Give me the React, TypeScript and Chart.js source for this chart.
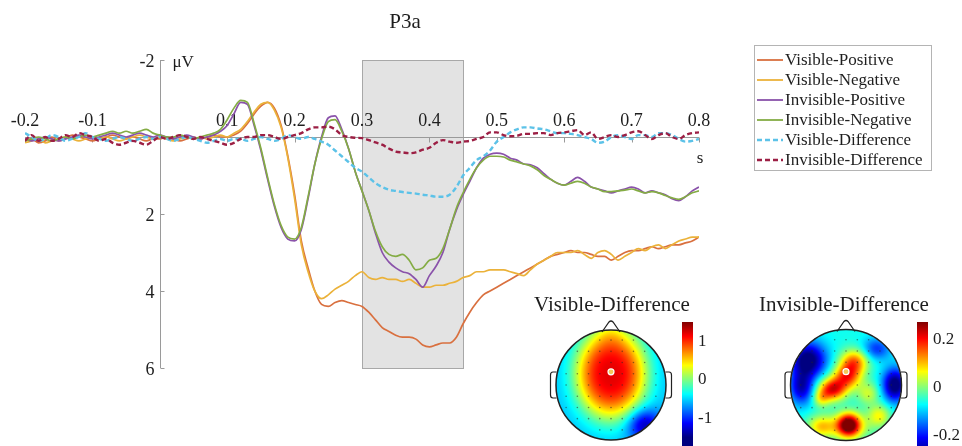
import React, { useEffect, useRef } from 'react';
import { Chart, registerables } from 'chart.js';

Chart.register(...registerables);

// ---------- text ----------
const TITLE = 'P3a';
const Y_UNIT = 'μV';
const X_UNIT = 's';
const X_TICKS = [-0.2, -0.1, 0.1, 0.2, 0.3, 0.4, 0.5, 0.6, 0.7, 0.8];
const Y_TICKS = [-2, 2, 4, 6];
const X_MIN = -0.2;
const X_MAX = 0.8;
const Y_MIN = -2;
const Y_MAX = 6;
const WINDOW_START = 0.3;
const WINDOW_END = 0.45;
const START_TIME = -0.2;
const SAMPLE_STEP = 0.01;

const SERIES_NAMES = [
  'Visible-Positive',
  'Visible-Negative',
  'Invisible-Positive',
  'Invisible-Negative',
  'Visible-Difference',
  'Invisible-Difference',
];

// ---------- data (µV, one value per 10 ms from -0.2 s to 0.8 s) ----------
const VISIBLE_POSITIVE = [
  0.1, 0.05, 0.15, 0.1, 0.0, 0.1, 0.05, -0.05, 0.0, 0.05,
  0.1, 0.05, 0.0, -0.05, 0.0, 0.05, 0.0, 0.05, 0.1, 0.05,
  0.05, 0.0, 0.05, 0.1, 0.05, 0.0, 0.05, 0.0, -0.05, 0.0,
  0.0, -0.05, -0.15, -0.35, -0.6, -0.8, -0.9, -0.75, -0.3, 0.5,
  1.5, 2.7, 3.4, 4.0, 4.35, 4.4, 4.3, 4.25, 4.3, 4.35,
  4.4, 4.55, 4.75, 4.95, 5.05, 5.15, 5.2, 5.2, 5.25, 5.4,
  5.45, 5.4, 5.35, 5.35, 5.2, 4.85, 4.55, 4.3, 4.1, 4.0,
  3.9, 3.8, 3.7, 3.6, 3.5, 3.4, 3.3, 3.2, 3.1, 3.05,
  3.0, 2.95, 3.0, 3.0, 3.05, 3.1, 3.1, 3.2, 3.1, 3.0,
  2.95, 2.95, 2.9, 2.85, 2.9, 2.85, 2.8, 2.8, 2.75, 2.7,
  2.6,
];
const VISIBLE_NEGATIVE = [
  0.15, 0.1, 0.05, 0.15, 0.1, 0.05, 0.0, 0.05, 0.1, 0.05,
  0.0, 0.05, 0.0, 0.05, 0.1, 0.05, 0.0, -0.05, 0.0, 0.05,
  0.0, 0.05, 0.1, 0.05, 0.0, 0.05, 0.0, 0.05, 0.0, -0.05,
  0.0, -0.1, -0.2, -0.4, -0.65, -0.85, -0.9, -0.7, -0.25, 0.55,
  1.6, 2.8, 3.5, 4.0, 4.2, 4.1, 3.95, 3.85, 3.75, 3.6,
  3.5, 3.65, 3.7, 3.65, 3.7, 3.7, 3.75, 3.7, 3.8, 3.9,
  3.9, 3.85, 3.85, 3.8, 3.75, 3.65, 3.6, 3.5, 3.5, 3.45,
  3.45, 3.45, 3.5, 3.55, 3.6, 3.45, 3.3, 3.2, 3.1, 3.0,
  3.0, 3.0, 2.95, 3.05, 3.15, 3.0, 2.95, 3.05, 3.2, 3.1,
  3.0, 2.9, 2.95, 2.85, 2.8, 2.9, 2.8, 2.7, 2.65, 2.6,
  2.6,
];
const INVISIBLE_POSITIVE = [
  0.05, 0.1, 0.05, 0.0, 0.05, 0.1, 0.05, 0.0, -0.05, 0.0,
  0.05, 0.0, -0.05, -0.1, -0.05, 0.0, -0.05, -0.1, -0.05, 0.0,
  -0.05, 0.0, 0.05, 0.0, -0.05, 0.0, 0.05, 0.0, -0.05, -0.15,
  -0.3, -0.6, -0.9, -0.85, -0.3, 0.35, 1.1, 1.8, 2.35, 2.65,
  2.7, 2.4, 1.6, 0.7, 0.0, -0.5, -0.55, -0.2, 0.3, 0.9,
  1.4, 1.9, 2.5, 3.0, 3.25, 3.4, 3.5, 3.55, 3.7, 3.9,
  3.6, 3.35, 3.0, 2.4, 1.9, 1.5, 1.15, 0.8, 0.55, 0.45,
  0.42, 0.45, 0.55, 0.6, 0.7, 0.72, 0.8, 0.95, 1.1, 1.2,
  1.25, 1.15, 1.05, 1.15, 1.3, 1.35, 1.4, 1.45, 1.4, 1.35,
  1.3, 1.35, 1.45, 1.4, 1.45, 1.5, 1.6, 1.65, 1.55, 1.4,
  1.3,
];
const INVISIBLE_NEGATIVE = [
  0.1, 0.05, 0.0, 0.05, 0.1, 0.05, 0.0, 0.05, 0.0, -0.05,
  0.0, -0.05, -0.1, -0.15, -0.1, -0.15, -0.1, -0.15, -0.2, -0.1,
  -0.05, 0.0, 0.0, -0.05, 0.0, 0.05, 0.0, -0.05, -0.1, -0.2,
  -0.45, -0.75, -0.95, -0.9, -0.35, 0.3, 1.05, 1.75, 2.3, 2.6,
  2.65, 2.35, 1.55, 0.7, 0.05, -0.4, -0.45, -0.15, 0.3, 0.9,
  1.4, 1.9, 2.45, 2.85, 3.05, 3.1, 3.05, 3.2, 3.45, 3.4,
  3.2, 3.15, 2.9, 2.4, 1.85, 1.45, 1.1, 0.8, 0.6, 0.5,
  0.5, 0.52, 0.6, 0.65, 0.7, 0.75, 0.85, 1.0, 1.1, 1.2,
  1.25, 1.2, 1.15, 1.2, 1.3, 1.35, 1.42, 1.42, 1.4, 1.38,
  1.35, 1.4, 1.45, 1.42, 1.45, 1.52, 1.58, 1.62, 1.55, 1.45,
  1.4,
];
const VISIBLE_DIFFERENCE = [
  -0.1, 0.0, 0.1, 0.05, -0.05, 0.0, 0.1, 0.05, 0.0, -0.1,
  0.0, 0.05, 0.1, 0.05, 0.0, 0.05, 0.1, 0.05, 0.0, 0.05,
  0.0, 0.05, 0.1, 0.05, 0.0, 0.05, 0.1, 0.15, 0.1, 0.05,
  0.1, 0.05, 0.05, 0.1, 0.05, 0.0, 0.05, 0.1, 0.05, -0.05,
  0.0, 0.05, 0.0, 0.05, 0.12, 0.2, 0.35, 0.5, 0.65, 0.8,
  0.9, 1.05, 1.2, 1.3, 1.37, 1.4, 1.43, 1.45, 1.47, 1.5,
  1.52, 1.55, 1.55, 1.5, 1.3, 1.0, 0.8, 0.6, 0.5, 0.35,
  0.12, 0.0, -0.12, -0.2, -0.25, -0.25, -0.22, -0.2, -0.15, -0.1,
  -0.1, -0.08, -0.05, 0.0, 0.05, 0.15, 0.12, 0.0, -0.05, 0.0,
  0.05, -0.05, -0.05, 0.0, -0.1, -0.1, -0.05, 0.05, 0.12, 0.1,
  0.05,
];
const INVISIBLE_DIFFERENCE = [
  0.1, -0.05, 0.1, 0.0, 0.1, 0.05, -0.05, 0.0, -0.1, -0.05,
  0.0, 0.1, 0.05, 0.15, 0.2, 0.15, 0.1, 0.15, 0.2, 0.1,
  0.0, 0.05, 0.0, -0.05, 0.0, 0.05, 0.0, 0.05, 0.1, 0.15,
  0.2, 0.15, 0.05, 0.0, 0.0, -0.05, -0.05, 0.0, 0.05, 0.0,
  -0.05, -0.1, -0.2, -0.25, -0.25, -0.27, -0.2, -0.05, 0.0, 0.02,
  0.03, 0.08, 0.14, 0.2, 0.3, 0.38, 0.4, 0.42, 0.4, 0.33,
  0.28, 0.15, 0.08, 0.12, 0.15, 0.12, 0.1, 0.05, 0.0, -0.12,
  -0.12, -0.05, -0.02, -0.03, -0.08, -0.08, -0.1, -0.1, -0.05, -0.1,
  -0.12, -0.15, -0.18, -0.05, -0.12, 0.05, 0.0, -0.05, 0.0, -0.05,
  -0.12, -0.15, -0.05, 0.05, -0.05, -0.1, 0.0, 0.05, -0.05, -0.1,
  -0.12,
];

// ---------- scalp maps (components of the interpolated field) ----------
const VIS_TOPO_TITLE = 'Visible-Difference';
const VIS_TOPO_BASE = -0.55;
const VIS_TOPO_COMPONENTS = [
  [0.0, -0.2, 1.75, 0.65, 0.82, 1.5],
  [0.0, -0.98, 0.2, 0.3, 0.25, 1],
  [0.6, 0.72, -0.8, 0.3, 0.28, 1],
];
const VIS_TOPO_LIMIT = 1.5;
const VIS_CBAR_TICKS = [1, 0, -1];

const INV_TOPO_TITLE = 'Invisible-Difference';
const INV_TOPO_BASE = -0.06;
const INV_TOPO_COMPONENTS = [
  [-0.68, -0.45, -0.24, 0.32, 0.32, 1],
  [-0.8, 0.05, -0.18, 0.22, 0.3, 1],
  [0.55, -0.65, -0.12, 0.25, 0.2, 1],
  [0.88, 0.0, -0.24, 0.22, 0.3, 1],
  [0.15, -0.42, 0.2, 0.25, 0.22, 1],
  [0.02, -0.15, 0.22, 0.25, 0.22, 1],
  [-0.25, 0.08, 0.27, 0.25, 0.2, 1],
  [0.05, 0.72, 0.32, 0.2, 0.2, 1],
  [0.05, 0.75, 0.1, 0.42, 0.26, 1],
  [-0.45, 0.75, 0.14, 0.25, 0.2, 1],
  [0.6, 0.55, 0.12, 0.2, 0.2, 1],
  [0.4, 0.15, 0.1, 0.2, 0.2, 1],
  [-0.45, 0.25, 0.1, 0.15, 0.15, 1],
];
const INV_TOPO_LIMIT = 0.275;
const INV_CBAR_TICKS = [0.2, 0, -0.2];

// ---------- styles ----------
const SERIF = '"Liberation Serif", "Times New Roman", serif';
const TEXT_COLOR = '#1e1e1e';
const COLORS = ['#d9703f', '#ebb23a', '#8a52aa', '#84ac44', '#5cc2e8', '#9c1f44'];
const DASHED = [false, false, false, false, true, true];

function jet(n: number): [number, number, number] {
  const c = (v: number) => Math.max(0, Math.min(1, v));
  return [c(1.5 - Math.abs(4 * n - 3)), c(1.5 - Math.abs(4 * n - 2)), c(1.5 - Math.abs(4 * n - 1))];
}

function fieldAt(u: number, v: number, base: number, comps: number[][]) {
  let s = base;
  for (const [cu, cv, a, sx, sy, p] of comps) {
    const d2 = ((u - cu) / sx) ** 2 + ((v - cv) / sy) ** 2;
    s += a * Math.exp(-Math.pow(d2, p));
  }
  return s;
}

type TopoLayout = {
  cx: number; cy: number; r: number; title: string; titleX: number;
  base: number; comps: number[][]; limit: number;
  barX: number; barTop: number; pxPerUnit: number; ticks: number[];
};

function drawTopo(ctx: CanvasRenderingContext2D, L: TopoLayout) {
  const { cx, cy, r } = L;
  const size = Math.ceil(2 * r) + 2;
  const off = document.createElement('canvas');
  off.width = size;
  off.height = size;
  const octx = off.getContext('2d')!;
  const img = octx.createImageData(size, size);
  for (let py = 0; py < size; py++) {
    for (let px = 0; px < size; px++) {
      const u = (px + 0.5 - size / 2) / r;
      const v = (py + 0.5 - size / 2) / r;
      const idx = (py * size + px) * 4;
      if (u * u + v * v > 1.0) { img.data[idx + 3] = 0; continue; }
      const val = fieldAt(u, v, L.base, L.comps);
      const n = Math.max(0, Math.min(1, (val + L.limit) / (2 * L.limit)));
      const [R, G, B] = jet(n);
      img.data[idx] = R * 255;
      img.data[idx + 1] = G * 255;
      img.data[idx + 2] = B * 255;
      img.data[idx + 3] = 255;
    }
  }
  octx.putImageData(img, 0, 0);
  ctx.save();
  ctx.drawImage(off, cx - size / 2, cy - size / 2);

  // electrodes
  ctx.fillStyle = 'rgba(40,40,40,0.55)';
  for (let gv = -0.8; gv <= 0.81; gv += 0.2) {
    for (let gu = -0.8; gu <= 0.81; gu += 0.2) {
      if (gu * gu + gv * gv > 0.8) continue;
      ctx.beginPath();
      ctx.arc(cx + gu * r * 1.02, cy + gv * r * 1.02, 0.8, 0, Math.PI * 2);
      ctx.fill();
    }
  }
  // highlighted electrode
  ctx.beginPath();
  ctx.arc(cx, cy - 0.24 * r, 3, 0, Math.PI * 2);
  ctx.fillStyle = '#f3c85a';
  ctx.fill();
  ctx.strokeStyle = '#ffffff';
  ctx.lineWidth = 1.2;
  ctx.stroke();

  // head outline, nose, ears
  ctx.strokeStyle = '#222';
  ctx.lineWidth = 1.5;
  ctx.beginPath();
  ctx.arc(cx, cy, r, 0, Math.PI * 2);
  ctx.stroke();
  ctx.lineWidth = 1.2;
  ctx.beginPath();
  ctx.moveTo(cx - 9, cy - r + 2);
  ctx.lineTo(cx - 2, cy - r - 8);
  ctx.quadraticCurveTo(cx, cy - r - 10, cx + 2, cy - r - 8);
  ctx.lineTo(cx + 9, cy - r + 2);
  ctx.stroke();
  for (const side of [-1, 1]) {
    const ex = cx + side * r;
    ctx.beginPath();
    ctx.moveTo(ex - side * 0.5, cy - 13);
    ctx.lineTo(ex + side * 3, cy - 13);
    ctx.quadraticCurveTo(ex + side * 5.5, cy - 13, ex + side * 5.5, cy - 10);
    ctx.lineTo(ex + side * 5.5, cy + 10);
    ctx.quadraticCurveTo(ex + side * 5.5, cy + 13, ex + side * 3, cy + 13);
    ctx.lineTo(ex - side * 0.5, cy + 13);
    ctx.stroke();
  }

  // colour bar
  const barW = 11;
  for (let yy = L.barTop; yy < 446; yy++) {
    const val = L.limit - (yy + 0.5 - L.barTop) / L.pxPerUnit;
    const n = Math.max(0, Math.min(1, (val + L.limit) / (2 * L.limit)));
    const [R, G, B] = jet(n);
    ctx.fillStyle = `rgb(${Math.round(R * 255)},${Math.round(G * 255)},${Math.round(B * 255)})`;
    ctx.fillRect(L.barX, yy, barW, 1);
  }
  ctx.fillStyle = TEXT_COLOR;
  ctx.font = `17px ${SERIF}`;
  ctx.textAlign = 'left';
  ctx.textBaseline = 'middle';
  for (const t of L.ticks) {
    const yy = L.barTop + (L.limit - t) * L.pxPerUnit;
    ctx.fillText(String(t), L.barX + barW + 5, yy);
  }
  // title
  ctx.font = `21px ${SERIF}`;
  ctx.textAlign = 'center';
  ctx.fillText(L.title, L.titleX, 305);
  ctx.restore();
}

const decorPlugin = {
  id: 'erpDecor',
  beforeDatasetsDraw(chart: any) {
    const { ctx } = chart;
    const x = chart.scales.x;
    const y = chart.scales.y;
    const xw0 = x.getPixelForValue(WINDOW_START);
    const xw1 = x.getPixelForValue(WINDOW_END);
    const yTop = y.getPixelForValue(Y_MIN);
    const yBot = y.getPixelForValue(Y_MAX);
    ctx.save();
    ctx.fillStyle = '#e3e3e3';
    ctx.fillRect(xw0, yTop, xw1 - xw0, yBot - yTop);
    ctx.strokeStyle = '#a8a8a8';
    ctx.lineWidth = 1;
    ctx.strokeRect(Math.round(xw0) + 0.5, Math.round(yTop) + 0.5, Math.round(xw1 - xw0), Math.round(yBot - yTop));

    const y0 = Math.round(y.getPixelForValue(0)) + 0.5;
    const x0 = Math.round(x.getPixelForValue(0)) + 0.5;
    ctx.strokeStyle = '#9a9a9a';
    ctx.beginPath();
    ctx.moveTo(x.getPixelForValue(X_MIN), y0);
    ctx.lineTo(x.getPixelForValue(X_MAX), y0);
    ctx.moveTo(x0, yTop);
    ctx.lineTo(x0, yBot);
    for (const t of X_TICKS) {
      const px = Math.round(x.getPixelForValue(t)) + 0.5;
      ctx.moveTo(px, y0);
      ctx.lineTo(px, y0 + 5);
    }
    for (const t of Y_TICKS) {
      const py = Math.round(y.getPixelForValue(t)) + 0.5;
      ctx.moveTo(x0, py);
      ctx.lineTo(x0 + 4, py);
    }
    ctx.stroke();

    ctx.fillStyle = TEXT_COLOR;
    ctx.font = `18px ${SERIF}`;
    ctx.textAlign = 'center';
    ctx.textBaseline = 'middle';
    for (const t of X_TICKS) {
      ctx.fillText(String(t), x.getPixelForValue(t), y0 - 16);
    }
    ctx.textAlign = 'right';
    for (const t of Y_TICKS) {
      ctx.fillText(String(t), x0 - 6, y.getPixelForValue(t) + 2);
    }
    ctx.font = `17px ${SERIF}`;
    ctx.textAlign = 'left';
    ctx.fillText(Y_UNIT, x0 + 12, yTop + 3);
    ctx.textAlign = 'center';
    ctx.fillText(X_UNIT, x.getPixelForValue(X_MAX) + 1, y0 + 21);
    ctx.font = `21px ${SERIF}`;
    ctx.fillText(TITLE, 405, 22);
    ctx.restore();
  },
  afterDatasetsDraw(chart: any) {
    const { ctx } = chart;
    ctx.save();
    // legend
    const lx = 754, ly = 45, lw = 177, lh = 125;
    ctx.fillStyle = '#ffffff';
    ctx.fillRect(lx, ly, lw, lh);
    ctx.strokeStyle = '#b4b4b4';
    ctx.lineWidth = 1;
    ctx.strokeRect(lx + 0.5, ly + 0.5, lw, lh);
    ctx.font = `17px ${SERIF}`;
    ctx.textAlign = 'left';
    ctx.textBaseline = 'middle';
    chart.data.datasets.forEach((ds: any, i: number) => {
      const ry = 60 + i * 20;
      ctx.strokeStyle = ds.borderColor;
      ctx.lineWidth = DASHED[i] ? 2.4 : 1.8;
      ctx.setLineDash(DASHED[i] ? [5, 3] : []);
      ctx.beginPath();
      ctx.moveTo(757, ry);
      ctx.lineTo(783, ry);
      ctx.stroke();
      ctx.setLineDash([]);
      ctx.fillStyle = TEXT_COLOR;
      ctx.fillText(ds.label, 785, ry + 1);
    });
    ctx.restore();

    drawTopo(ctx, {
      cx: 611, cy: 385, r: 55, title: VIS_TOPO_TITLE, titleX: 612,
      base: VIS_TOPO_BASE, comps: VIS_TOPO_COMPONENTS, limit: VIS_TOPO_LIMIT,
      barX: 682, barTop: 322, pxPerUnit: 38.5, ticks: VIS_CBAR_TICKS,
    });
    drawTopo(ctx, {
      cx: 846, cy: 385, r: 55.5, title: INV_TOPO_TITLE, titleX: 844,
      base: INV_TOPO_BASE, comps: INV_TOPO_COMPONENTS, limit: INV_TOPO_LIMIT,
      barX: 917, barTop: 322, pxPerUnit: 240, ticks: INV_CBAR_TICKS,
    });
  },
};

export default function App() {
  const canvasRef = useRef<HTMLCanvasElement | null>(null);

  useEffect(() => {
    const canvas = canvasRef.current;
    if (!canvas) return;
    const times = VISIBLE_POSITIVE.map((_, i) => +(START_TIME + i * SAMPLE_STEP).toFixed(2));
    const series = [
      VISIBLE_POSITIVE,
      VISIBLE_NEGATIVE,
      INVISIBLE_POSITIVE,
      INVISIBLE_NEGATIVE,
      VISIBLE_DIFFERENCE,
      INVISIBLE_DIFFERENCE,
    ];
    const datasets = series.map((arr, i) => ({
      label: SERIES_NAMES[i],
      data: arr.map((v, k) => ({ x: times[k], y: v })),
      borderColor: COLORS[i],
      backgroundColor: COLORS[i],
      borderWidth: DASHED[i] ? 2.4 : 1.7,
      borderDash: DASHED[i] ? [5, 3] : [],
      pointRadius: 0,
      cubicInterpolationMode: 'monotone' as const,
      fill: false,
      order: series.length - i,
    }));
    const chart = new Chart(canvas, {
      type: 'line',
      data: { datasets },
      options: {
        animation: false,
        responsive: true,
        maintainAspectRatio: false,
        events: [],
        layout: { padding: { left: 25, top: 60, right: 263, bottom: 78 } },
        plugins: { legend: { display: false }, title: { display: false }, tooltip: { enabled: false } },
        scales: {
          x: { type: 'linear', min: X_MIN, max: X_MAX, display: false },
          y: { type: 'linear', min: Y_MIN, max: Y_MAX, reverse: true, display: false },
        },
      },
      plugins: [decorPlugin],
    });
    return () => chart.destroy();
  }, []);

  return (
    <div style={{ position: 'absolute', left: 0, top: 0, width: 962, height: 446, background: '#fff' }}>
      <canvas ref={canvasRef} />
    </div>
  );
}
